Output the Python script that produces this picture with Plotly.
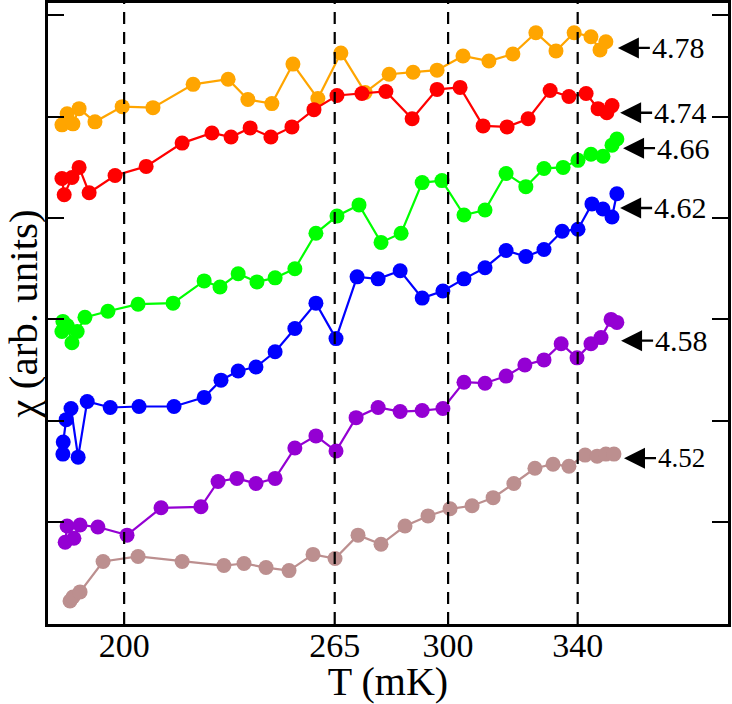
import plotly.graph_objects as go

FONT = "Liberation Serif, Times New Roman, serif"

# temperature (mK) and susceptibility (arb. units) for each field
T_478 = [180.8, 182.4, 184.2, 186.1, 191.0, 199.4, 208.9, 221.3, 232.1, 238.2,
         245.6, 252.1, 259.8, 266.9, 274.4, 281.8, 289.2, 296.6, 304.6, 312.6,
         320.0, 327.1, 333.3, 338.9, 344.1, 346.9, 348.7]
CHI_478 = [3.92, 4.03, 3.93, 4.08, 3.95, 4.10, 4.09, 4.32, 4.37, 4.17,
           4.13, 4.52, 4.18, 4.63, 4.24, 4.42, 4.44, 4.46, 4.60, 4.55,
           4.62, 4.83, 4.65, 4.83, 4.79, 4.66, 4.74]

T_474 = [180.8, 181.5, 183.9, 186.1, 189.2, 197.2, 206.8, 217.9, 227.1, 233.0,
         238.9, 245.3, 251.8, 258.6, 265.7, 273.4, 280.8, 288.9, 296.6, 303.7,
         310.8, 318.2, 324.7, 331.5, 337.3, 342.6, 346.3, 349.0, 350.6]
CHI_474 = [3.39, 3.23, 3.40, 3.50, 3.25, 3.42, 3.51, 3.74, 3.84, 3.80,
           3.89, 3.80, 3.90, 4.07, 4.21, 4.23, 4.25, 3.98, 4.27, 4.29,
           3.91, 3.90, 3.98, 4.26, 4.20, 4.23, 4.08, 4.04, 4.11]

T_466 = [180.8, 181.1, 182.4, 183.9, 185.5, 187.9, 195.0, 204.3, 215.1, 224.7,
         229.6, 235.2, 241.0, 246.6, 252.7, 259.2, 265.7, 272.5, 279.3, 285.5,
         292.0, 298.1, 304.9, 311.4, 317.9, 324.0, 329.6, 335.5, 340.1, 344.1,
         347.8, 350.6, 352.1]
CHI_466 = [1.88, 1.98, 1.94, 1.77, 1.88, 2.02, 2.08, 2.15, 2.16, 2.38,
           2.32, 2.45, 2.37, 2.41, 2.50, 2.85, 3.02, 3.13, 2.76, 2.85,
           3.35, 3.37, 3.03, 3.08, 3.44, 3.31, 3.49, 3.50, 3.57, 3.63,
           3.61, 3.72, 3.78]

T_462 = [181.1, 181.2, 182.1, 183.6, 185.8, 188.6, 195.7, 204.6, 215.4, 224.7,
         229.9, 235.2, 240.7, 246.6, 252.7, 259.2, 265.4, 271.9, 278.4, 285.2,
         292.0, 298.4, 304.9, 311.4, 317.9, 324.0, 329.6, 335.2, 340.1, 344.4,
         347.8, 350.6, 352.1]
CHI_462 = [0.67, 0.79, 1.01, 1.12, 0.64, 1.19, 1.13, 1.14, 1.14, 1.23,
           1.40, 1.49, 1.53, 1.68, 1.91, 2.16, 1.81, 2.42, 2.40, 2.48,
           2.21, 2.28, 2.40, 2.51, 2.68, 2.62, 2.69, 2.87, 2.89, 3.14,
           3.09, 3.01, 3.24]

T_458 = [181.8, 182.4, 184.5, 186.4, 191.9, 200.9, 211.4, 223.7, 229.0, 234.8,
         240.7, 246.6, 252.7, 259.2, 265.4, 271.6, 278.4, 285.2, 292.0, 298.4,
         304.9, 311.4, 317.9, 323.7, 329.6, 334.9, 339.8, 344.1, 347.2, 350.3,
         352.1]
CHI_458 = [-0.20, -0.04, -0.16, -0.03, -0.05, -0.13, 0.14, 0.15, 0.40, 0.43,
           0.38, 0.43, 0.73, 0.85, 0.70, 1.03, 1.13, 1.09, 1.10, 1.12,
           1.38, 1.37, 1.44, 1.55, 1.60, 1.76, 1.62, 1.76, 1.82, 2.00,
           1.97]

T_452 = [183.3, 184.2, 186.4, 193.5, 204.3, 217.9, 230.8, 237.0, 243.8, 250.9,
         258.3, 265.1, 272.2, 279.3, 286.7, 293.8, 300.6, 307.4, 313.9, 320.3,
         326.8, 332.4, 337.3, 342.3, 346.0, 348.7, 351.2]
CHI_452 = [-0.78, -0.74, -0.69, -0.39, -0.34, -0.39, -0.43, -0.41, -0.45, -0.48,
           -0.32, -0.36, -0.13, -0.22, -0.04, 0.06, 0.13, 0.16, 0.24, 0.38,
           0.53, 0.57, 0.55, 0.66, 0.65, 0.67, 0.67]

FIELDS = ["4.78", "4.74", "4.66", "4.62", "4.58", "4.52"]
SERIES_T = [T_478, T_474, T_466, T_462, T_458, T_452]
SERIES_CHI = [CHI_478, CHI_474, CHI_466, CHI_462, CHI_458, CHI_452]
COLORS = ["#ffa500", "#ff0000", "#00ff00", "#0000ff", "#9400d3", "#bc8f8f"]

# characteristic temperatures marked with dashed lines
MARK_T = [200, 265, 300, 340]

# where each field label arrow points (T, chi)
ARROW_T = [352.4, 353.1, 354.0, 353.1, 353.4, 354.3]
ARROW_CHI = [4.68, 4.04, 3.69, 3.10, 1.79, 0.63]
ARROW_FONT = [30, 30, 30, 30, 30, 27]


fig = go.Figure()
for field, t, chi, color in zip(FIELDS, SERIES_T, SERIES_CHI, COLORS):
    fig.add_trace(
        go.Scatter(
            x=t,
            y=chi,
            mode="lines+markers",
            name=field,
            line={"color": color, "width": 2.2},
            marker={"color": color, "size": 15},
        )
    )

for t in MARK_T:
    fig.add_shape(
        type="line",
        x0=t,
        x1=t,
        y0=0,
        y1=1,
        xref="x",
        yref="paper",
        layer="above",
        line={"color": "black", "width": 2.2, "dash": "12px,8px"},
    )

for field, t, chi, size in zip(FIELDS, ARROW_T, ARROW_CHI, ARROW_FONT):
    fig.add_annotation(
        x=t,
        y=chi,
        text=field,
        showarrow=True,
        ax=32,
        ay=0,
        xanchor="left",
        arrowhead=2,
        arrowsize=1.75,
        arrowwidth=2.4,
        arrowcolor="black",
        font={"family": FONT, "size": size, "color": "black"},
    )

fig.update_layout(
    width=732,
    height=704,
    showlegend=False,
    plot_bgcolor="white",
    paper_bgcolor="white",
    margin={"l": 48, "r": 4, "t": 3, "b": 80},
    font={"family": FONT, "color": "black"},
)
fig.update_xaxes(
    range=[176.5, 386.4],
    tickvals=MARK_T,
    ticks="",
    showgrid=False,
    zeroline=False,
    showline=True,
    linewidth=3,
    linecolor="black",
    mirror=True,
    tickfont={"family": FONT, "size": 34},
    ticklabelstandoff=-11,
    title={"text": "T (mK)", "font": {"family": FONT, "size": 40}, "standoff": 2},
    automargin=False,
)
fig.update_yaxes(
    range=[-1.007, 5.123],
    tickvals=[0, 1, 2, 3, 4, 5],
    showticklabels=False,
    ticks="inside",
    ticklen=16,
    tickwidth=1.5,
    tickcolor="black",
    showgrid=False,
    zeroline=False,
    showline=True,
    linewidth=3,
    linecolor="black",
    mirror="ticks",
    title={"text": "χ (arb. units)", "font": {"family": FONT, "size": 41}, "standoff": 7},
    automargin=False,
)

# drop the default page margin so the figure sits at the window's corner
fig.write_html(
    "out.html",
    config={"displayModeBar": False},
    post_script="document.body.style.margin = '0';",
)
